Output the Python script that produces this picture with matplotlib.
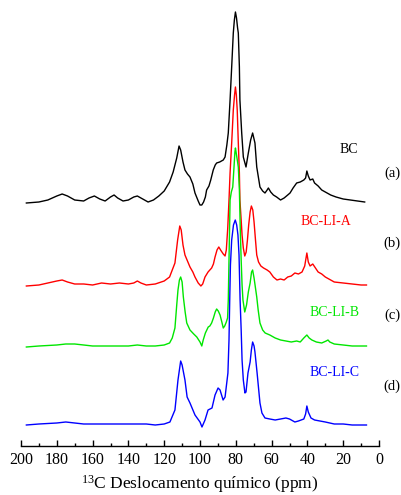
import matplotlib
matplotlib.use("Agg")
import matplotlib.pyplot as plt
import numpy as np

plt.rcParams['font.family'] = ['Liberation Serif', 'DejaVu Serif']
plt.rcParams['mathtext.fontset'] = 'custom'
plt.rcParams['mathtext.rm'] = 'Liberation Serif'

# ---- data (chemical shift in ppm, intensity in arbitrary units) ----
bc_ppm = [197, 190, 185, 180, 177, 174, 170, 165, 162, 159, 156, 153, 150, 148, 146, 143, 140, 137, 135, 132,
          129, 126, 123, 120, 117, 115, 113, 111.7, 110.8, 109.5, 108.4, 107, 105.6, 104, 102.8, 101, 100, 99, 98,
          97, 96.3, 95, 94, 92.6, 91.5, 90.7, 89, 87, 86, 85, 84.2, 83.2, 82.3, 81.4, 80.8, 80.2, 79.6, 79, 78.6,
          78, 77.7, 76.7, 75.8, 74.3, 73, 71.7, 70.6, 69.3, 68.3, 66.5, 65, 63.7, 62.5, 61.8, 60.5, 59, 57.2, 55,
          53, 51, 49.7, 48, 46, 44, 42, 41, 40.3, 39.5, 38.5, 37, 36, 34, 32, 30, 27, 24, 20, 16, 12, 8]
bc_int = [-1, 0, 2, 6, 8, 6, 2, 1, 4, 6, 3, 1, 5, 7, 4, 1, 2, 5, 6, 3,
          0, 2, 6, 11, 20, 30, 44, 56, 52, 40, 32, 28, 25, 18, 9, 1, -3, -3, 0,
          5, 12, 16, 22, 32, 37, 39, 40, 42, 45, 57, 69, 102, 135, 169, 182, 190, 184, 174, 169,
          135, 102, 69, 45, 35, 49, 62, 69, 59, 35, 15, 11, 9, 12, 14, 10, 7, 5, 2,
          4, 7, 9, 14, 19, 20, 22, 24, 31, 26, 22, 23, 19, 16, 12, 10, 7, 5, 3, 2, 1, 0]

a_ppm = [197, 190, 185, 180, 177, 174, 170, 165, 160, 155, 150, 145, 140, 137, 135, 133, 130, 125, 120, 117,
         114, 112.5, 111.3, 110.5, 109.5, 108.4, 107, 105.6, 104, 102.8, 101, 99.5, 98.5, 97.2, 95.5, 93.5, 92.5,
         91.6, 90.5, 89.5, 88.5, 87, 86, 85.3, 84.5, 83.8, 83.2, 82.3, 81.4, 80.7, 80.2, 79.7, 79.2, 78.6, 78,
         77.7, 77, 76.5, 75.8, 75, 74.2, 73.5, 72.8, 72, 71.3, 70.5, 69.8, 69, 68.3, 67.3, 66, 64.5, 62.5, 61,
         59, 57, 55, 53, 51, 49, 47, 45, 43, 41.5, 40.3, 39.5, 38.5, 37, 35.5, 34, 32, 30, 28, 25, 20, 15, 10, 7]
a_int = [-1, 0, 2, 4, 5, 3, 1, 1, 0, 2, 1, 2, 1, 2, 4, 2, 0, 1, 4, 8,
         22, 45, 59, 55, 40, 30, 24, 18, 13, 8, 2, -1, 1, 8, 13, 17, 21,
         28, 35, 38, 35, 31, 29, 35, 57, 85, 112, 142, 175, 190, 198, 190, 175, 142, 112,
         85, 65, 50, 37, 29, 33, 45, 60, 73, 79, 75, 63, 45, 30, 23, 19, 17, 15, 13,
         8, 5, 6, 5, 8, 9, 12, 11, 13, 19, 32, 23, 19, 21, 17, 13, 11, 8, 6, 3, 2, 1, 0, 0]

b_ppm = [197, 190, 180, 175, 170, 165, 160, 150, 140, 135, 130, 125, 120, 117, 115.5, 114, 113, 112.3, 111.5,
         110.8, 110, 109.3, 108.3, 107.4, 105.6, 103.5, 101.8, 100, 99, 98.2, 97, 95.4, 94.5, 93.5, 92.5, 91.5,
         90.7, 89.8, 88.8, 87.8, 87, 86.2, 85.3, 84.6, 84.2, 83.7, 83.2, 82.5, 81.7, 81, 80.5, 80.2, 79.6, 79,
         78.6, 78, 77.5, 77, 76.5, 76, 75, 74, 73, 72, 71.2, 70.6, 69.8, 68.3, 67.5, 66.5, 65, 63.6, 61, 58, 55,
         52, 49, 46, 44, 42, 40.3, 39, 37.5, 35, 32, 29.5, 28.5, 27.5, 25, 20, 15, 10, 7]
b_int = [-1, 0, 1, 2, 2, 1, 0, 0, 0, 1, 0, 0, 1, 3, 8, 18, 41, 56, 66,
         69, 64, 49, 34, 23, 16, 12, 9, 4, 0, 6, 13, 19, 20, 23, 28, 34,
         37, 35, 31, 24, 18, 20, 24, 28, 46, 96, 146, 154, 159, 179, 194, 198, 191, 184,
         179, 156, 116, 86, 61, 46, 34, 41, 54, 63, 74, 76, 68, 49, 36, 23, 16, 13, 11, 8, 6,
         5, 4, 5, 4, 8, 11, 8, 6, 4, 3, 5, 6, 4, 2, 1, 0, 0, 0]

c_ppm = [197, 190, 180, 175, 170, 165, 150, 140, 130, 125, 120, 116.8, 114, 112.3, 110.8, 110, 108.4, 107.2,
         105.6, 102.8, 100, 98.9, 97.2, 95.5, 93.3, 91.6, 89.9, 88.8, 87.1, 86, 84.4, 83.8, 83.4, 83, 82.3, 81.3,
         80.3, 79.5, 78.8, 78.2, 77.6, 77, 76.5, 75.8, 74.9, 74.3, 73.2, 72, 71.3, 70.6, 69.8, 69.3, 68.1, 66.5,
         65.4, 63.7, 61, 58, 55, 52, 50, 47, 45, 42, 41, 40.3, 39.5, 38, 36, 33, 30, 25, 20, 15, 10, 7]
c_int = [-1, 0, 1, 2, 1, 0, 0, 0, 0, -1, 0, 2, 14, 44, 63, 59, 44, 27,
         21, 9, 2, -3, 4, 14, 16, 29, 36, 34, 24, 27, 51, 84, 124, 159, 184, 199,
         204, 199, 189, 169, 124, 94, 64, 44, 31, 32, 51, 62, 74, 82, 78, 72, 51, 21,
         11, 6, 5, 4, 5, 6, 5, 2, 3, 5, 10, 18, 12, 6, 4, 3, 2, 0, 0, -1, -1, -1]

names = ['BC', 'BC-LI-A', 'BC-LI-B', 'BC-LI-C']
letters = ['(a)', '(b)', '(c)', '(d)']
x_ticks = [200, 180, 160, 140, 120, 100, 80, 60, 40, 20, 0]

# ---- layout / style ----
offsets = [244, 161, 100, 22]
colors = ['#000000', '#ff0000', '#00e600', '#0000ff']
name_pos = [(16.8, 297), (29.6, 225), (24.6, 133), (24.6, 73)]
letter_pos = [(-7.3, 273), (-7.3, 203), (-7.3, 131), (-7.3, 60)]

fig = plt.figure(figsize=(4.02, 4.95), dpi=100)
ax = fig.add_axes([21 / 402, (495 - 446) / 495, 358 / 402, 440 / 495])

series = [(bc_ppm, bc_int), (a_ppm, a_int), (b_ppm, b_int), (c_ppm, c_int)]
for (px, iy), off, col in zip(series, offsets, colors):
    ax.plot(px, np.array(iy) + off, color=col, lw=1.0)

for name, (tx, ty), col in zip(names, name_pos, colors):
    ax.text(tx, ty, name, color=col, fontsize=10, ha='center', va='center', clip_on=False)
for lab, (tx, ty) in zip(letters, letter_pos):
    ax.text(tx, ty, lab, color='black', fontsize=10.5, ha='center', va='center', clip_on=False)

ax.set_xlim(200, 0)
ax.set_ylim(0, 440)
for s in ['left', 'right', 'top']:
    ax.spines[s].set_visible(False)
ax.spines['bottom'].set_linewidth(1.0)
ax.set_yticks([])
ax.set_xticks(x_ticks)
ax.set_xticks(np.arange(10, 200, 20), minor=True)
ax.tick_params(axis='x', which='major', direction='in', length=4, width=1.0, labelsize=11.5, pad=4)
ax.tick_params(axis='x', which='minor', direction='in', length=2.5, width=1.0)
ax.set_xlabel(r'$\mathregular{^{13}}$C Deslocamento químico (ppm)', fontsize=12.5, labelpad=4)
ax.patch.set_visible(False)

fig.savefig('out.png', dpi=100)
